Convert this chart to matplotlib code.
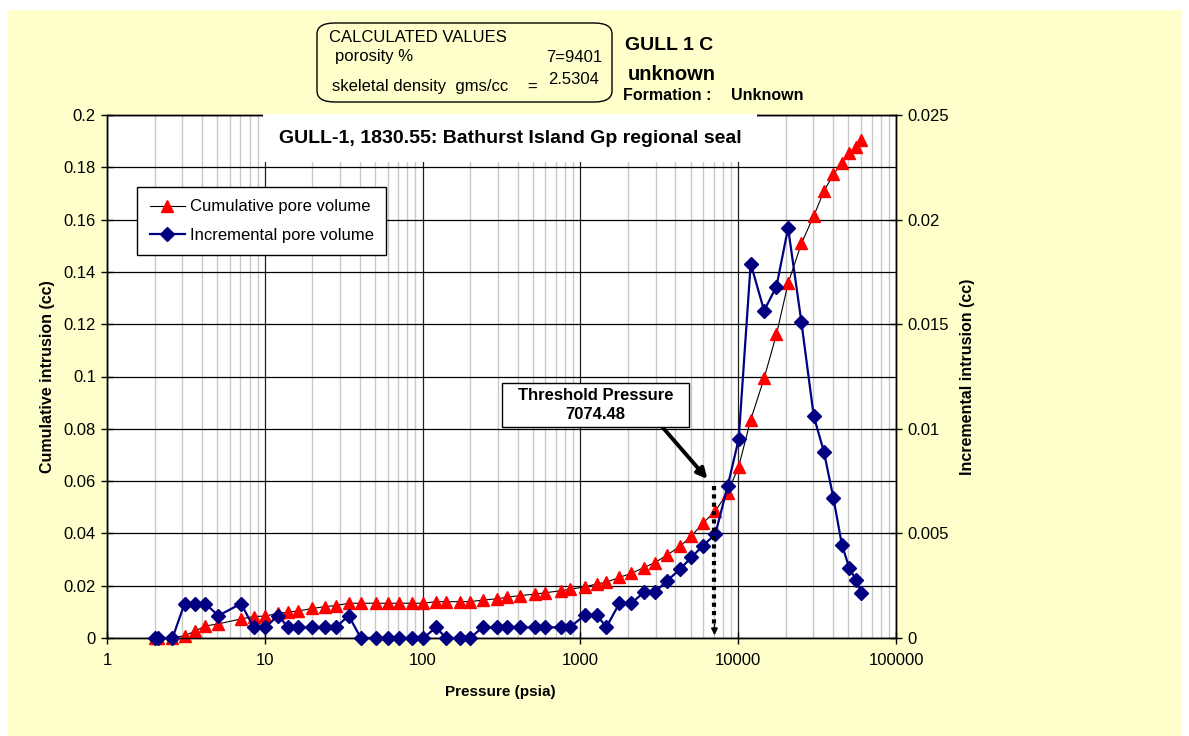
import matplotlib
matplotlib.use("Agg")
import matplotlib.pyplot as plt
from matplotlib.patches import FancyBboxPatch, Rectangle
from matplotlib.ticker import FixedLocator, FuncFormatter, NullFormatter

plt.rcParams["font.family"] = ["Liberation Sans", "DejaVu Sans"]

# ---------------------------------------------------------
# data
# ---------------------------------------------------------
pressure = [2.0, 2.09, 2.6, 3.1, 3.63, 4.2, 5.08, 7.07, 8.5, 10.1,
            12.1, 14.1, 16.2, 20.0, 24.1, 28.2, 34.0, 40.6, 50.5, 60.8,
            71.1, 85.5, 101, 122, 140.5, 173, 200, 240, 296, 345,
            412, 518, 599, 756, 854, 1074, 1274, 1459, 1766, 2103,
            2518, 2958, 3542, 4303, 5049, 5986, 7165, 8578, 10070, 12000,
            14590, 17470, 20710, 25150, 30120, 34930, 40150, 45420, 50700, 55740,
            60430]

cumulative = [0.0, 0.0, 0.0, 0.0009, 0.0027, 0.0046, 0.0054, 0.0073, 0.0082, 0.0084,
              0.0094, 0.0099, 0.0103, 0.0113, 0.0120, 0.0124, 0.0133, 0.0133, 0.0133, 0.0133,
              0.0133, 0.0133, 0.0133, 0.0139, 0.0139, 0.0139, 0.0139, 0.0145, 0.0150, 0.0156,
              0.0162, 0.0168, 0.0173, 0.0181, 0.0186, 0.0196, 0.0207, 0.0213, 0.0232, 0.0247,
              0.0269, 0.0288, 0.0317, 0.0352, 0.0390, 0.0439, 0.0486, 0.0556, 0.0655, 0.0834,
              0.0993, 0.1161, 0.1356, 0.1509, 0.1614, 0.1709, 0.1773, 0.1818, 0.1853, 0.1879,
              0.1904]

incremental = [0.0, 0.0, 0.0, 0.00164, 0.00164, 0.00164, 0.00107, 0.00164, 0.00051, 0.00051,
               0.00107, 0.00051, 0.00051, 0.00051, 0.00051, 0.00051, 0.00107, 0.0, 0.0, 0.0,
               0.0, 0.0, 0.0, 0.00051, 0.0, 0.0, 0.0, 0.00051, 0.00051, 0.00051,
               0.00051, 0.00051, 0.00051, 0.00051, 0.00051, 0.0011, 0.0011, 0.00051, 0.00166, 0.00166,
               0.00218, 0.00218, 0.00274, 0.0033, 0.00386, 0.00441, 0.00497, 0.00727, 0.0095, 0.0179,
               0.01565, 0.0168, 0.0196, 0.0151, 0.0106, 0.0089, 0.00668, 0.00445, 0.00333, 0.00277,
               0.00217]

threshold = 7074.48
x_ticks = [1, 10, 100, 1000, 10000, 100000]
y_left_ticks = [0, 0.02, 0.04, 0.06, 0.08, 0.1, 0.12, 0.14, 0.16, 0.18, 0.2]
y_right_ticks = [0, 0.005, 0.01, 0.015, 0.02, 0.025]

W, H = 1189, 736


def fx(px):
    return px / W


def fy(py):
    return 1 - py / H


fig = plt.figure(figsize=(W / 100, H / 100), dpi=100)
fig.patch.set_facecolor("white")
# yellow chart area (behind everything)
fig.patches.append(Rectangle((fx(8), 0), fx(1181) - fx(8), fy(10), transform=fig.transFigure,
                             facecolor="#FFFFCC", edgecolor="none", zorder=-10))

ax = fig.add_axes([fx(107), fy(638), fx(896) - fx(107), fy(115) - fy(638)])
ax.set_facecolor("white")
ax.set_xscale("log")
ax.set_xlim(1, 100000)
ax.set_ylim(0, 0.2)

# grid: light minor verticals, black majors
ax.xaxis.set_minor_locator(FixedLocator([m * 10 ** d for d in range(5) for m in range(2, 10)]))
ax.xaxis.set_minor_formatter(NullFormatter())
ax.grid(True, which="minor", axis="x", color="#C8C8C8", lw=1.0)
ax.grid(True, which="major", axis="x", color="#202020", lw=0.9)
ax.grid(True, which="major", axis="y", color="black", lw=0.9)
ax.set_axisbelow(True)

ax.xaxis.set_major_locator(FixedLocator(x_ticks))
ax.xaxis.set_major_formatter(FuncFormatter(lambda v, p: f"{v:.0f}"))
ax.yaxis.set_major_locator(FixedLocator(y_left_ticks))
ax.yaxis.set_major_formatter(FuncFormatter(lambda v, p: f"{v:g}"))
ax.tick_params(axis="both", which="major", direction="inout", length=8, width=1,
               labelsize=12, pad=4)
ax.tick_params(axis="x", which="minor", length=0)
ax.tick_params(axis="x", pad=7)
for s in ax.spines.values():
    s.set_color("black")
    s.set_linewidth(1)

cum_line, = ax.plot(pressure, cumulative, color="black", lw=0.8, marker="^", markersize=9,
                    markerfacecolor="red", markeredgecolor="red", zorder=3, clip_on=False,
                    label="Cumulative pore volume")

ax2 = ax.twinx()
ax2.set_ylim(0, 0.025)
ax2.yaxis.set_major_locator(FixedLocator(y_right_ticks))
ax2.yaxis.set_major_formatter(FuncFormatter(lambda v, p: f"{v:g}"))
ax2.tick_params(axis="y", direction="inout", length=8, width=1, labelsize=12, pad=4)
for s in ax2.spines.values():
    s.set_color("black")
    s.set_linewidth(1)

inc_line, = ax2.plot(pressure, incremental, color="#000080", lw=1.6, marker="D", markersize=6.8,
                     markerfacecolor="#000080", markeredgecolor="#000080", zorder=4, clip_on=False,
                     label="Incremental pore volume")

# threshold pressure marker (dotted line with arrow head)
ax2.plot([threshold, threshold], [0.058 / 8, 0.0005], color="black", lw=3, ls=(0, (1, 1)),
         zorder=5)
ax2.annotate("", xy=(threshold, 0.0), xytext=(threshold, 0.0008),
             arrowprops=dict(arrowstyle="-|>", color="black", lw=1, mutation_scale=10), zorder=5)

fig.patches.append(Rectangle((fx(502), fy(427)), fx(689) - fx(502), fy(383) - fy(427),
                             transform=fig.transFigure, facecolor="white", edgecolor="black",
                             lw=1, zorder=5))
fig.text(fx(595.5), fy(405), "Threshold Pressure\n7074.48", ha="center", va="center",
         fontsize=12, fontweight="bold", linespacing=1.3, zorder=6)
ax2.annotate("", xy=(6380, 0.0608 / 8), xytext=(3305, 0.0807 / 8),
             arrowprops=dict(arrowstyle="-|>", color="black", lw=2.8, mutation_scale=15,
                             shrinkA=0, shrinkB=0), zorder=6)

# chart title on white background
ax2.text(0.511, 0.956, "GULL-1, 1830.55: Bathurst Island Gp regional seal", transform=ax.transAxes,
         ha="center", va="center", fontsize=14, fontweight="bold", zorder=6,
         bbox=dict(boxstyle="square,pad=0.8", facecolor="white", edgecolor="none"))

# axis labels
ax.set_xlabel("Pressure (psia)", fontsize=11, fontweight="bold")
ax.xaxis.set_label_coords(0.498, -0.09)
ax.set_ylabel("Cumulative intrusion (cc)", fontsize=11.5, fontweight="bold")
ax.yaxis.set_label_coords(-0.066, 0.5)
ax2.set_ylabel("Incremental intrusion (cc)", fontsize=11.5, fontweight="bold")
ax2.yaxis.set_label_coords(1.081, 0.5)

# legend
leg = ax2.legend(handles=[cum_line, inc_line], loc="upper left",
                 bbox_to_anchor=(fx(137), fy(187)), bbox_transform=fig.transFigure,
                 fontsize=12, frameon=True, fancybox=False, framealpha=1, edgecolor="black",
                 handlelength=2.15, handletextpad=0.25, labelspacing=0.8, borderpad=0.75,
                 borderaxespad=0)
leg.get_frame().set_linewidth(1)
leg.set_zorder(10)

# calculated values box at the top
fig.patches.append(FancyBboxPatch((fx(317), fy(102)), fx(612) - fx(317), fy(23) - fy(102),
                                  boxstyle="round,pad=0,rounding_size=0.015",
                                  transform=fig.transFigure, facecolor="none",
                                  edgecolor="black", lw=1))
fig.text(fx(329), fy(37), "CALCULATED VALUES", fontsize=12, va="center")
fig.text(fx(335), fy(57), "porosity %", fontsize=12, va="center")
fig.text(fx(546), fy(57), "7=9401", fontsize=12, va="center")
fig.text(fx(332), fy(86), "skeletal density  gms/cc", fontsize=12, va="center")
fig.text(fx(527), fy(87), "=", fontsize=12, va="center")
fig.text(fx(548), fy(80), "2.5304", fontsize=12, va="center")

fig.text(fx(625), fy(45), "GULL 1 C", fontsize=14, fontweight="bold", va="center")
fig.text(fx(628), fy(75), "unknown", fontsize=14.5, fontweight="bold", va="center")
fig.text(fx(623), fy(95), "Formation :", fontsize=11.5, fontweight="bold", va="center")
fig.text(fx(731), fy(95), "Unknown", fontsize=11.5, fontweight="bold", va="center")

fig.savefig("out.png", dpi=100, facecolor=fig.get_facecolor())
